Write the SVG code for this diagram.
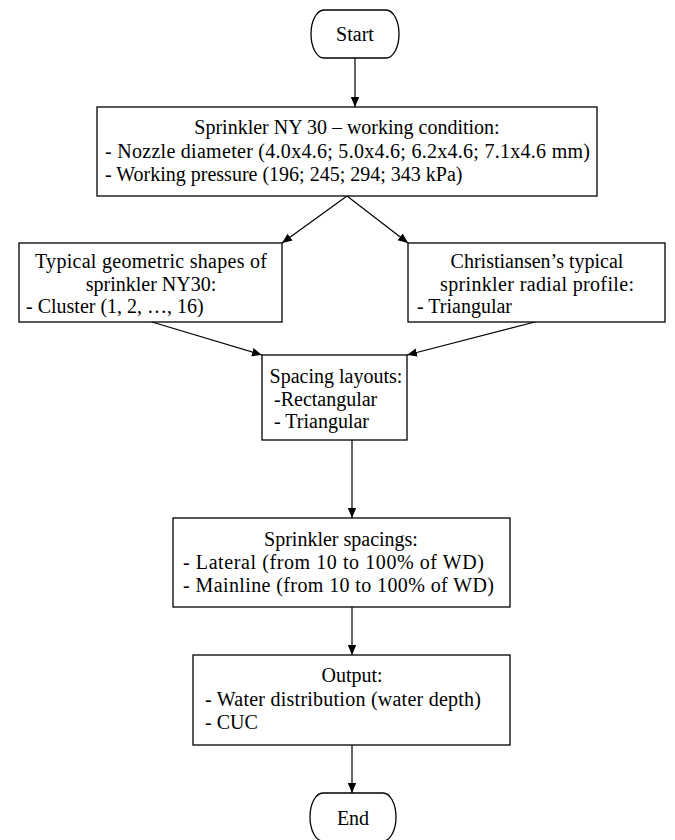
<svg xmlns="http://www.w3.org/2000/svg" width="675" height="840" viewBox="0 0 675 840">
<style>
.b{fill:#fff;stroke:#000;stroke-width:1.3}
.t{font-family:"Liberation Serif","Times New Roman",serif;font-size:20px;fill:#000}
.c{text-anchor:middle}
.e{stroke:#000;stroke-width:1.2;fill:none;marker-end:url(#ah)}
</style>
<defs>
<marker id="ah" viewBox="0 0 10 10" refX="10" refY="5" markerWidth="10" markerHeight="10" markerUnits="userSpaceOnUse" orient="auto">
<path d="M0,0.8 L10,5 L0,9.2 Z" fill="#000"/>
</marker>
</defs>
<rect width="675" height="840" fill="#fff"/>
<g id="connectors">
<line class="e" x1="355" y1="58" x2="355" y2="107"/>
<line class="e" x1="347" y1="196" x2="282" y2="243"/>
<line class="e" x1="347" y1="196" x2="408" y2="243"/>
<line class="e" x1="152" y1="322" x2="262" y2="355"/>
<line class="e" x1="535" y1="322" x2="407" y2="355"/>
<line class="e" x1="352" y1="440" x2="352" y2="518"/>
<line class="e" x1="352" y1="607" x2="352" y2="655"/>
<line class="e" x1="352" y1="745" x2="352" y2="793"/>
</g>
<g id="start">
<path class="b" d="M324,10 H386 A13,24 0 0 1 386,58 H324 A13,24 0 0 1 324,10 Z"/>
<text class="t c" x="355" y="41">Start</text>
</g>
<g id="condition">
<rect class="b" x="97" y="107" width="500" height="89"/>
<text class="t c" x="347" y="134">Sprinkler NY 30 – working condition:</text>
<text class="t" x="105" y="158" textLength="485" lengthAdjust="spacing">- Nozzle diameter (4.0x4.6; 5.0x4.6; 6.2x4.6; 7.1x4.6 mm)</text>
<text class="t" x="105" y="181">- Working pressure (196; 245; 294; 343 kPa)</text>
</g>
<g id="shapes">
<rect class="b" x="19" y="243" width="263" height="79"/>
<text class="t c" x="151" y="268" textLength="232" lengthAdjust="spacing">Typical geometric shapes of</text>
<text class="t c" x="151" y="291">sprinkler NY30:</text>
<text class="t" x="26" y="313">- Cluster (1, 2, …, 16)</text>
</g>
<g id="profile">
<rect class="b" x="408" y="243" width="257" height="79"/>
<text class="t c" x="537" y="268">Christiansen’s typical</text>
<text class="t c" x="537" y="291" textLength="194" lengthAdjust="spacing">sprinkler radial profile:</text>
<text class="t" x="417" y="313">- Triangular</text>
</g>
<g id="layouts">
<rect class="b" x="262" y="355" width="145" height="85"/>
<text class="t c" x="336" y="383">Spacing layouts:</text>
<text class="t" x="274" y="406">-Rectangular</text>
<text class="t" x="274" y="428">- Triangular</text>
</g>
<g id="spacings">
<rect class="b" x="173" y="518" width="337" height="89"/>
<text class="t c" x="341" y="546">Sprinkler spacings:</text>
<text class="t" x="183" y="569" textLength="301" lengthAdjust="spacing">- Lateral (from 10 to 100% of WD)</text>
<text class="t" x="183" y="592" textLength="311" lengthAdjust="spacing">- Mainline (from 10 to 100% of WD)</text>
</g>
<g id="output">
<rect class="b" x="193" y="655" width="317" height="90"/>
<text class="t c" x="352" y="682">Output:</text>
<text class="t" x="205" y="706" textLength="276" lengthAdjust="spacing">- Water distribution (water depth)</text>
<text class="t" x="205" y="729">- CUC</text>
</g>
<g id="end">
<path class="b" d="M323,793 H383 A13,24 0 0 1 383,841 H323 A13,24 0 0 1 323,793 Z"/>
<text class="t c" x="353" y="825">End</text>
</g>
</svg>
